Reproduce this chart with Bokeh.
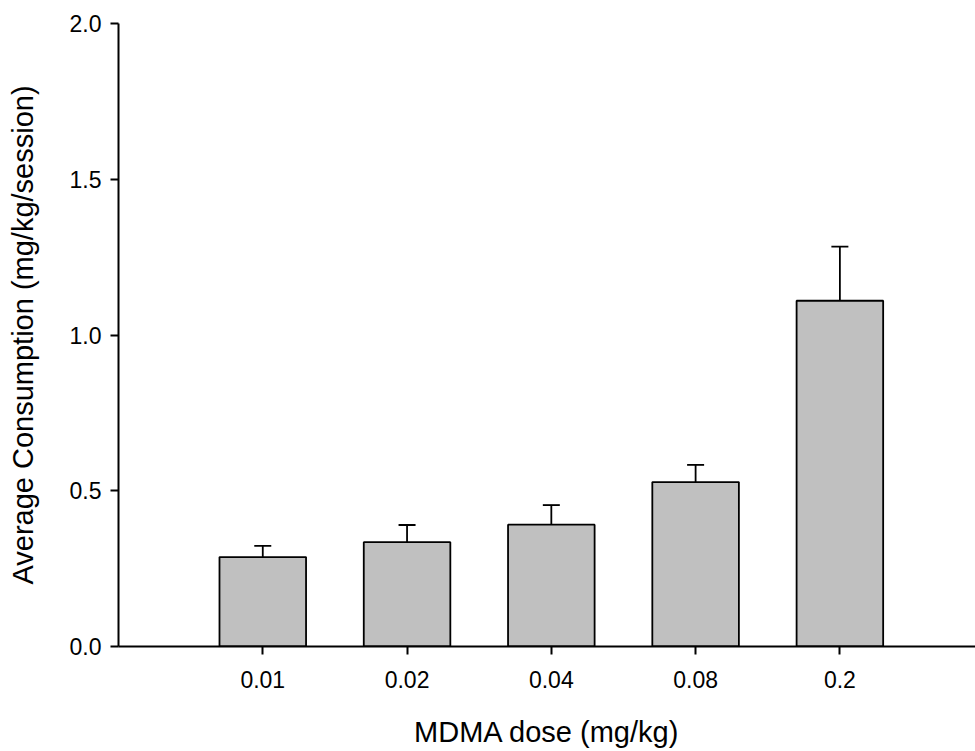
from bokeh.plotting import figure
from bokeh.models import ColumnDataSource, Range1d, FixedTicker, Whisker, TeeHead
from bokeh.embed import file_html
from bokeh.resources import INLINE

# MDMA self-administration: mean consumption per dose with SEM
doses = ["0.01", "0.02", "0.04", "0.08", "0.2"]
consumption = [0.287, 0.335, 0.391, 0.528, 1.110]
sem = [0.036, 0.055, 0.063, 0.055, 0.174]
y_ticks = [0.0, 0.5, 1.0, 1.5, 2.0]

positions = list(range(1, len(doses) + 1))
upper = [m + s for m, s in zip(consumption, sem)]
src = ColumnDataSource(dict(x=positions, mean=consumption, upper=upper))

FONT = "Liberation Sans"

p = figure(width=975, height=751, output_backend="svg", toolbar_location=None,
           x_range=Range1d(0, 5.94), y_range=Range1d(0, 2.0),
           min_border_left=118, min_border_right=0, min_border_top=23,
           min_border_bottom=105)
p.outline_line_color = None
p.xgrid.visible = False
p.ygrid.visible = False

p.vbar(x="x", top="mean", bottom=0, width=0.6, source=src,
       fill_color="#c0c0c0", line_color="black", line_width=1.8)

err = Whisker(base="x", lower="mean", upper="upper", source=src,
              line_color="black", line_width=1.8,
              lower_head=None,
              upper_head=TeeHead(size=17, line_color="black", line_width=1.8))
p.add_layout(err)

# x axis: dose categories
p.xaxis.ticker = FixedTicker(ticks=positions)
p.xaxis.major_label_overrides = {pos: d for pos, d in zip(positions, doses)}
p.xaxis.axis_label = "MDMA dose (mg/kg)"
p.yaxis.ticker = FixedTicker(ticks=y_ticks)
p.yaxis.major_label_overrides = {t: f"{t:.1f}" for t in y_ticks}
p.yaxis.axis_label = "Average Consumption (mg/kg/session)"

for ax in (p.xaxis[0], p.yaxis[0]):
    ax.axis_line_width = 2
    ax.axis_line_color = "black"
    ax.major_tick_line_width = 2
    ax.major_tick_line_color = "black"
    ax.major_tick_out = 8
    ax.major_tick_in = 0
    ax.minor_tick_out = 0
    ax.minor_tick_in = 0
    ax.major_label_text_font = FONT
    ax.major_label_text_font_size = "23px"
    ax.major_label_text_color = "black"
    ax.axis_label_text_font = FONT
    ax.axis_label_text_font_size = "29px"
    ax.axis_label_text_font_style = "normal"
    ax.axis_label_text_color = "black"

p.xaxis.major_label_standoff = 16
p.xaxis.axis_label_standoff = 25
p.yaxis.major_label_standoff = 9
p.yaxis.axis_label_standoff = 28

open("out.html", "w").write(file_html(p, INLINE))
